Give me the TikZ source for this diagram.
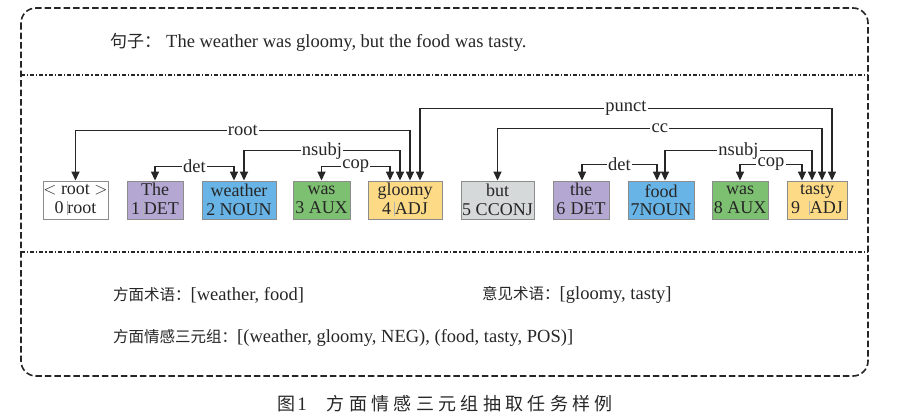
\documentclass[tikz,border=0pt]{standalone}
\usepackage{fontspec}
\setmainfont{Liberation Serif}
\newfontfamily\cjk{Noto Sans CJK SC}
\newfontfamily\cjkcap{Noto Sans CJK SC}[LetterSpace=24]
\usetikzlibrary{arrows.meta}
\definecolor{cpurple}{HTML}{B4A8D3}
\definecolor{cblue}{HTML}{68B4E6}
\definecolor{cgreen}{HTML}{7EC071}
\definecolor{cyellow}{HTML}{FDDA86}
\definecolor{cgray}{HTML}{D5D9D9}
\definecolor{ink}{HTML}{262626}
\newcommand{\sepbar}{\textcolor{black!30}{\rule[-2pt]{0.7pt}{14pt}}}
\tikzset{
  tok/.style={draw=black!45, line width=0.9pt, minimum height=38pt, inner sep=0pt,
    align=center, font=\fontsize{18}{18.5}\selectfont, text=ink},
  dep/.style={draw=ink, line width=1.6pt,
    {Triangle[length=9pt,width=8pt]}-{Triangle[length=9pt,width=8pt]}},
  lab/.style={fill=white, inner sep=1.2pt, font=\fontsize{18.5}{19}\selectfont, text=ink},
  frame/.style={draw=ink, line width=1.6pt, dash pattern=on 6.5pt off 3pt},
  sepline/.style={draw=ink, line width=1.1pt, dash pattern=on 4pt off 2pt on 1.2pt off 2pt},
  txt/.style={anchor=west, inner sep=0pt, font=\fontsize{18.5}{19}\selectfont, text=ink}
}
\newcommand{\zh}[1]{{\cjk\fontsize{15.5}{18}\selectfont #1}}
\begin{document}
\begin{tikzpicture}[x=1pt, y=-1pt]
\useasboundingbox (0,0) rectangle (902,418);
% frame
\draw[frame, rounded corners=15pt] (21,8) rectangle (868,376);
\coordinate (s1l) at (21,75); \coordinate (s1r) at (868,75);
\coordinate (s2l) at (21,252); \coordinate (s2r) at (868,252);
\draw[sepline] (s1l) -- (s1r);
\draw[sepline] (s2l) -- (s2r);
% sentence
\node[txt] (sent) at (110,42) {{\cjk\fontsize{17}{18}\selectfont 句子：}\hspace{5pt}The weather was gloomy, but the food was tasty.};
% tokens
\node[tok, fill=white,   minimum width=65pt] (t0) at (75.5,200) {$<$ root $>$\\0\,\sepbar root};
\node[tok, fill=cpurple, minimum width=56pt] (t1) at (155,200) {The\\1\,\sepbar DET};
\node[tok, fill=cblue,   minimum width=74pt] (t2) at (239,200) {weather\\2 NOUN};
\node[tok, fill=cgreen,  minimum width=57pt] (t3) at (321.5,200) {was\\3 AUX};
\node[tok, fill=cyellow, minimum width=74pt] (t4) at (405,200) {gloomy\\4\,\sepbar ADJ};
\node[tok, fill=cgray,   minimum width=73pt] (t5) at (497.5,200) {but\\5 CCONJ};
\node[tok, fill=cpurple, minimum width=56pt] (t6) at (581,200) {the\\6 \sepbar DET};
\node[tok, fill=cblue,   minimum width=66pt] (t7) at (661,200) {food\\7NOUN};
\node[tok, fill=cgreen,  minimum width=56pt] (t8) at (740,200) {was\\8 AUX};
\node[tok, fill=cyellow, minimum width=60pt] (t9) at (817,200) {tasty\\9\ \ \sepbar ADJ};
% dependencies
\draw[dep] (t0.north) -- ++(0,-50) -| node[lab,pos=0.25]{root} ([xshift=5pt]t4.north);
\draw[dep] (t1.north) -- ++(0,-14) -| node[lab,pos=0.25]{det} ([xshift=-5pt]t2.north);
\draw[dep] ([xshift=5pt]t2.north) -- ++(0,-30) -| node[lab,pos=0.25]{nsubj} ([xshift=-5pt]t4.north);
\draw[dep] (t3.north) -- ++(0,-14) -| node[lab,pos=0.25]{cop} ([xshift=-15pt]t4.north);
\draw[dep] ([xshift=15pt]t4.north) -- ++(0,-72) -| node[lab,pos=0.25]{punct} ([xshift=15pt]t9.north);
\draw[dep] (t5.north) -- ++(0,-52) -| node[lab,pos=0.25]{cc} ([xshift=5pt]t9.north);
\draw[dep] ([xshift=4pt]t7.north) -- ++(0,-30) -| node[lab,pos=0.25]{nsubj} ([xshift=-5pt]t9.north);
\draw[dep] ([xshift=1pt]t6.north) -- ++(0,-16) -| node[lab,pos=0.25]{det} ([xshift=-4pt]t7.north);
\draw[dep] (t8.north) -- ++(0,-16) -| node[lab,pos=0.25]{cop} ([xshift=-15pt]t9.north);
% results
\node[txt] (asp) at (113,295) {\zh{方面术语：}[weather, food]};
\node[txt] (opn) at (482,295) {\zh{意见术语：}[gloomy, tasty]};
\node[txt] (tri) at (113,338) {\zh{方面情感三元组：}[(weather, gloomy, NEG), (food, tasty, POS)]};
% caption
\node[inner sep=0pt, text=ink] (cap) at (445,404) {{\cjkcap\fontsize{18}{18}\selectfont 图}\hspace{2pt}{\fontsize{19}{19}\selectfont 1}\hspace{20pt}{\cjkcap\fontsize{18}{18}\selectfont 方面情感三元组抽取任务样例}};
\end{tikzpicture}
\end{document}
